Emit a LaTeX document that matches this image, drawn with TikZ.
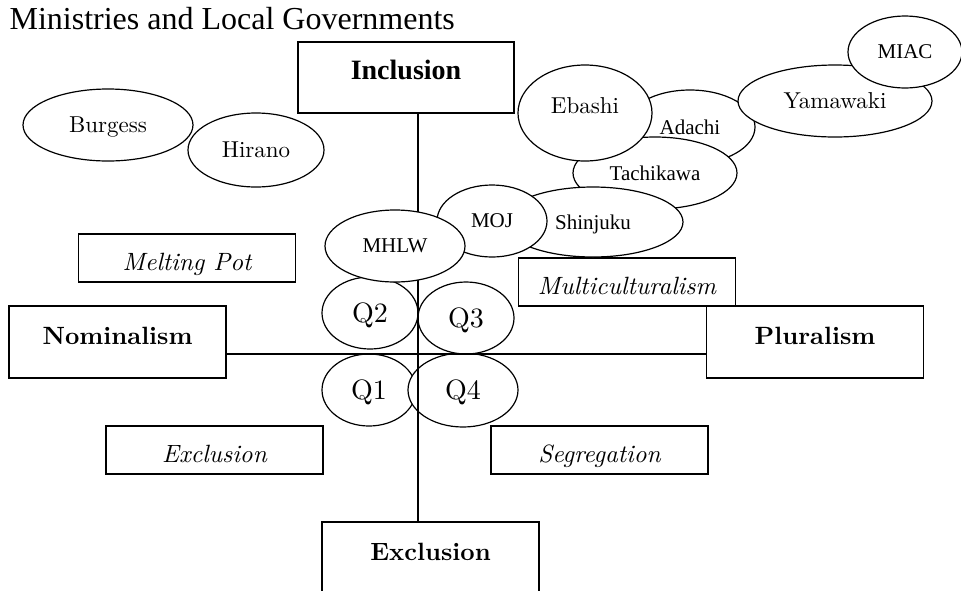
\documentclass[tikz,border=0pt]{standalone}
\usepackage{fontspec}
\usepackage{tikz}
\usetikzlibrary{shapes.geometric}
\newfontfamily\timesfont{Liberation Serif}
\newfontfamily\lmten{lmroman10}[Extension=.otf, UprightFont=*-regular, BoldFont=*-bold, ItalicFont=*-italic]

\begin{document}
\begin{tikzpicture}[x=1pt, y=-1pt, line width=1.2pt,
	blob/.style={ellipse, draw=black, fill=white, line width=1.2pt, inner sep=0pt, text depth=0pt},
	lmname/.style={blob, font=\lmten\fontsize{23}{26}\selectfont},
	tmname/.style={blob, font=\timesfont\fontsize{21}{24}\selectfont},
	quad/.style={blob, font=\lmten\fontsize{28}{32}\selectfont},
	polebox/.style={rectangle, draw=black, line width=1.2pt, inner sep=0pt, minimum width=217pt, minimum height=72pt, text height=20pt, text depth=16pt, font=\lmten\bfseries\fontsize{25}{30}\selectfont},
	modelbox/.style={rectangle, draw=black, line width=1.2pt, inner sep=0pt, minimum width=217pt, minimum height=48pt, text height=25pt, text depth=1pt, font=\lmten\itshape\fontsize{25}{30}\selectfont}]
					\useasboundingbox (0,0) rectangle (961,590);
					
					\node[anchor=base west, inner sep=0pt, font=\timesfont\fontsize{32}{36}\selectfont] (title) at (9,29){Ministries and Local Governments};
					
					\node[polebox, minimum width=216pt, minimum height=71pt, font=\timesfont\bfseries\fontsize{28}{32}\selectfont] (inclusion) at (406,77.5){Inclusion};
					\node[polebox] (nominalism) at (117.5,342){Nominalism};
					\node[polebox] (pluralism) at (815,342){Pluralism};
					\node[polebox] (exclusion) at (430.5,558){Exclusion};
					
					\node[modelbox] (melting) at (187,258){Melting Pot};
					\node[modelbox] (multi) at (627,282){Multiculturalism};
					\node[modelbox] (exclusionit) at (214.5,450){Exclusion};
					\node[modelbox] (segregation) at (599.5,450){Segregation};
					
					\node[lmname, minimum width=170pt, minimum height=72pt] (burgess) at (108,125){Burgess};
					\node[lmname, minimum width=136pt, minimum height=74pt] (hirano) at (256,150){Hirano};
					
					\node[quad, minimum width=94pt, minimum height=72pt] (q1) at (369,390){Q1};
					\node[quad, minimum width=110pt, minimum height=74pt] (q4) at (463,390){Q4};
					\node[quad, minimum width=96pt, minimum height=72pt] (q2) at (370,313){Q2};
					\node[quad, minimum width=96pt, minimum height=72pt] (q3) at (466,318){Q3};
					
					\coordinate (origin) at (418,354);
					\draw (origin |- inclusion.south) -- (origin |- exclusion.north);
					\draw (nominalism.east |- origin) -- (pluralism.west |- origin);
					
					\node[tmname, minimum width=130pt, minimum height=74pt] (adachi) at (690,127){Adachi};
					\node[tmname, minimum width=164pt, minimum height=72pt] (tachikawa) at (655,173){Tachikawa};
					\node[lmname, minimum width=194pt, minimum height=72pt] (yamawaki) at (835,101){Yamawaki};
					\node[tmname, minimum width=114pt, minimum height=72pt] (miac) at (905,52){MIAC};
					\node[lmname, minimum width=134pt, minimum height=96pt, text depth=15pt] (ebashi) at (585,113){Ebashi};
					\node[tmname, minimum width=180pt, minimum height=70pt] (shinjuku) at (593,222){Shinjuku};
					\node[tmname, minimum width=110pt, minimum height=72pt] (moj) at (492,221){MOJ};
					\node[tmname, minimum width=140pt, minimum height=72pt] (mhlw) at (395,246){MHLW};
					\end{tikzpicture}
\end{document}
